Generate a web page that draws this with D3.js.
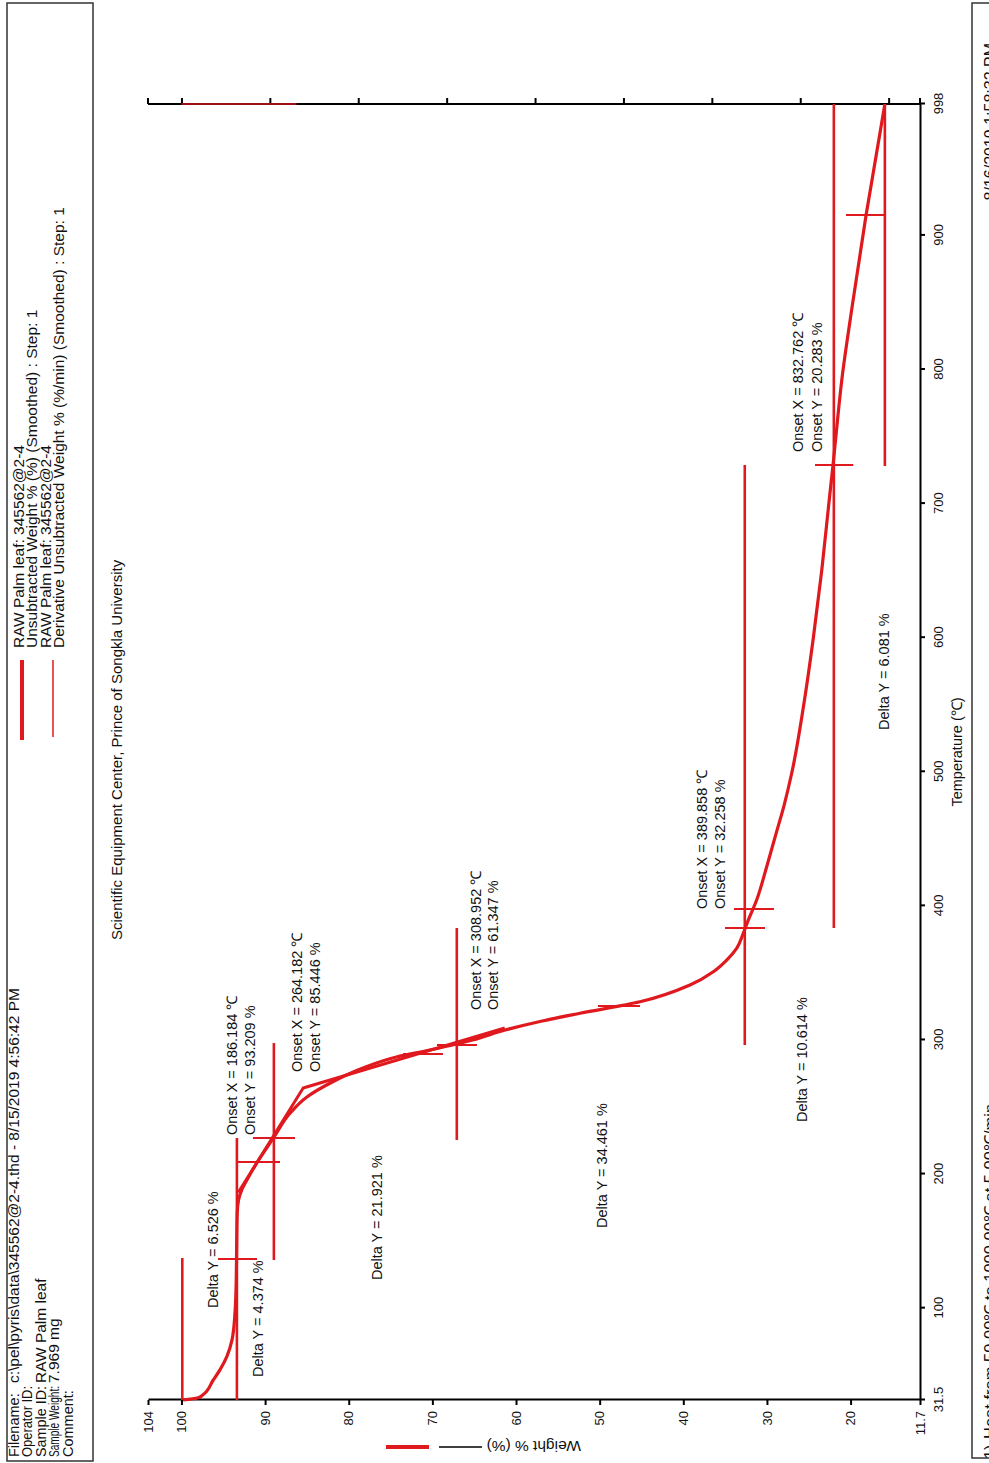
<!DOCTYPE html>
<html><head><meta charset="utf-8">
<script src="https://cdn.jsdelivr.net/npm/d3@7"></script>
<style>
body{margin:0;background:#fff}
svg{display:block}
text{font-family:"Liberation Sans",Arial,Helvetica,sans-serif;fill:#111}
</style>
</head><body>
<svg id="chart" width="989" height="1463"></svg>
<script>
// ---------- data ----------
const tempTicks   = [31.5,100,200,300,400,500,600,700,800,900,998];
const weightTicks = [104,100,90,80,70,60,50,40,30,20,11.7];
const derivTicks  = [0.2,0,-0.2,-0.4,-0.6,-0.8,-1.0,-1.2,-1.4];

const curveTemp   = [31.5,33,35,46.4,54,64.3,76.2,96.4,113.5,145.6,171,180.6,188,197,208.2,226.9,245.5,257.5,267.9,279.1,287.3,292.5,297,300,307.4,314,319.9,328.5,341,350.9,359.6,368.3,379.5,389.4,404.4,429.2,454.1,475,500,550,600,650,700,728.7,797.3,849.5,915,998];
const curveWeight = [99.8,98.1,97.5,96.2,95.4,94.55,93.96,93.6,93.48,93.4,93.33,93.18,92.8,92.04,91.0,89.0,87.0,85.0,82.2,78.3,74.3,70.3,67.1,65.2,61.3,57.0,52.35,45.18,39.2,36.41,34.81,33.62,32.83,32.23,31.23,30.03,28.9,27.95,27.0,25.6,24.45,23.45,22.6,22.1,20.95,19.75,18.15,15.9];

const onsetTemp   = [186.184,264.182,308.952];
const onsetWeight = [93.209,85.446,61.347];

const levelWeight = [99.9,93.37,88.95,67.08,32.65,22.0,15.9];
const levelFrom   = [31.5,31.5,135.9,225.4,296.2,383.5,728];
const levelTo     = [137.4,226.9,297.7,383.5,728.7,998,998];

const markTemp    = [136.6,209,226.9,289.5,296.2,325.3,383.5,397.6,728.7,915.2];
const markW1      = [95.63,93.24,91.45,73.51,69.45,50.2,35.01,33.94,24.25,20.55];
const markW2      = [90.97,88.22,86.42,68.73,64.67,45.18,30.23,29.16,19.68,16.0];

const noteText = ["Delta Y = 6.526 %","Delta Y = 4.374 %","Onset X = 186.184 \u2103","Onset Y = 93.209 %",
  "Onset X = 264.182 \u2103","Onset Y = 85.446 %","Delta Y = 21.921 %","Onset X = 308.952 \u2103","Onset Y = 61.347 %",
  "Delta Y = 34.461 %","Onset X = 389.858 \u2103","Onset Y = 32.258 %","Delta Y = 10.614 %",
  "Onset X = 832.762 \u2103","Onset Y = 20.283 %","Delta Y = 6.081 %"];
const noteT = [100.1,48.65,229.1,229.1,276.1,276.1,121,322.3,322.3,159.8,397.6,397.6,238.8,738.4,738.4,531.1];
const noteW = [95.63,90.25,93.36,91.2,85.59,83.44,76.02,64.19,62.15,49.1,37.2,35.0,25.25,25.69,23.45,15.45];

const infoLabels = ["Filename:","Operator ID:","Sample ID:","Sample Weight:","Comment:"];
const infoValues = ["c:\\pel\\pyris\\data\\345562@2-4.thd - 8/15/2019 4:56:42 PM","","RAW Palm leaf","7.969 mg",""];
const legendLines = ["RAW Palm leaf: 345562@2-4","Unsubtracted Weight % (%) (Smoothed) : Step: 1",
  "RAW Palm leaf: 345562@2-4","Derivative Unsubtracted Weight % (%/min) (Smoothed) : Step: 1"];

// ---------- layout (page is drawn in landscape, then rotated) ----------
const W = 1463, H = 989;
const RED = "#e0191e";
const svg = d3.select("#chart");
const g = svg.append("g").attr("transform", `translate(0,${W}) rotate(-90)`);

const xT = d3.scaleLinear().domain([31.5, 998]).range([63, 1359]);
const yW = d3.scaleLinear().domain([104, 11.7]).range([148, 920]);
const yD = d3.scaleLinear().domain([0.2, -1.4]).range([yW(100), yW(15.45)]);

// header box
g.append("rect").attr("x", 2).attr("y", 7).attr("width", 1458).attr("height", 86)
  .attr("fill", "none").attr("stroke", "#333").attr("stroke-width", 1.5);
const hdrFont = 15;
infoLabels.forEach((t, i) => {
  const lab = g.append("text").attr("x", 6).attr("y", 19 + i * 13.4).attr("font-size", 14.5).text(t);
  const len = lab.node().getComputedTextLength();
  if (len > 71) lab.attr("textLength", 71).attr("lengthAdjust", "spacingAndGlyphs");
  if (infoValues[i]) g.append("text").attr("x", 80).attr("y", 19 + i * 13.4).attr("font-size", 15.5).text(infoValues[i]);
});
legendLines.forEach((t, i) => {
  g.append("text").attr("x", 815).attr("y", 24 + i * 13.4).attr("font-size", 15.5).text(t);
});
g.append("line").attr("x1", 723).attr("x2", 803).attr("y1", 22).attr("y2", 22).attr("stroke", RED).attr("stroke-width", 4);
g.append("line").attr("x1", 726).attr("x2", 803).attr("y1", 53).attr("y2", 53).attr("stroke", RED).attr("stroke-width", 1.5);

g.append("text").attr("x", 523).attr("y", 122).attr("font-size", 15)
  .text("Scientific Equipment Center, Prince of Songkla University");

// footer box
g.append("rect").attr("x", 5).attr("y", 972).attr("width", 1455).attr("height", 40)
  .attr("fill", "none").attr("stroke", "#333").attr("stroke-width", 1.5);
g.append("text").attr("x", 4).attr("y", 996).attr("font-size", 16).text("1)");
g.append("text").attr("x", 24).attr("y", 996).attr("font-size", 16.5).text("Heat from 50.00\u2103 to 1000.00\u2103 at 5.00\u2103/min");
g.append("text").attr("x", 1420).attr("y", 996).attr("font-size", 16).attr("text-anchor", "end").text("8/16/2019 1:58:32 PM");

// ---------- axes ----------
const axT = g.append("g").attr("transform", `translate(0,${yW(11.7)})`)
  .call(d3.axisBottom(xT).tickValues(tempTicks).tickSize(5).tickSizeOuter(0).tickPadding(9)
    .tickFormat(d => String(d)));
const axW = g.append("g").attr("transform", `translate(${xT(31.5)},0)`)
  .call(d3.axisLeft(yW).tickValues(weightTicks).tickSize(5).tickSizeOuter(0).tickPadding(6)
    .tickFormat(d => String(d)));
const axD = g.append("g").attr("transform", `translate(${xT(998)},0)`)
  .call(d3.axisRight(yD).tickValues(derivTicks).tickSize(6).tickSizeOuter(0).tickFormat(""));
axD.select(".domain").remove();
[yW(104), yW(11.7)].forEach(v => g.append("line").attr("x1", xT(998)).attr("x2", xT(998) + 6)
  .attr("y1", v).attr("y2", v).attr("stroke", "#000").attr("stroke-width", 2));
g.append("line").attr("x1", xT(998)).attr("x2", xT(998)).attr("y1", yW(104)).attr("y2", yW(11.7))
  .attr("stroke", "#000").attr("stroke-width", 2);
[axT, axW, axD].forEach(a => {
  a.selectAll("path,line").attr("stroke", "#000").attr("stroke-width", 2);
  a.selectAll("text").attr("font-size", 13).attr("fill", "#111")
    .attr("font-family", '"Liberation Sans",Arial,sans-serif');
});

g.append("text").attr("x", (xT(31.5) + xT(998)) / 2).attr("y", 962).attr("text-anchor", "middle")
  .attr("font-size", 14.5).text("Temperature (\u2103)");

// weight axis title with legend swatches
const wt = g.append("g").attr("transform", `translate(22,581) rotate(-90)`);
wt.append("text").attr("x", 0).attr("y", 0).attr("font-size", 15.5).text("Weight % (%)");
g.append("line").attr("x1", 16).attr("x2", 16).attr("y1", 439).attr("y2", 482).attr("stroke", "#000").attr("stroke-width", 1.6);
g.append("line").attr("x1", 16).attr("x2", 16).attr("y1", 386).attr("y2", 429).attr("stroke", RED).attr("stroke-width", 4);

// ---------- plot marks ----------
const plot = g.append("g");
levelWeight.forEach((w, i) => {
  plot.append("line").attr("x1", xT(levelFrom[i])).attr("x2", xT(levelTo[i]))
    .attr("y1", yW(w)).attr("y2", yW(w)).attr("stroke", RED).attr("stroke-width", 2.6);
});
markTemp.forEach((t, i) => {
  plot.append("line").attr("x1", xT(t)).attr("x2", xT(t))
    .attr("y1", yW(markW1[i])).attr("y2", yW(markW2[i])).attr("stroke", RED).attr("stroke-width", 2);
});
plot.append("line").attr("x1", xT(998)).attr("x2", xT(998)).attr("y1", yD(0.2)).attr("y2", yD(-0.06))
  .attr("stroke", RED).attr("stroke-width", 2).attr("opacity", 0.7);

const pts = curveTemp.map((t, i) => [t, curveWeight[i]]);
const line = d3.line().x(d => xT(d[0])).y(d => yW(d[1])).curve(d3.curveMonotoneX);
plot.append("path").datum(pts).attr("d", line).attr("fill", "none").attr("stroke", RED)
  .attr("stroke-width", 3.2).attr("stroke-linejoin", "round");
const ons = onsetTemp.map((t, i) => [t, onsetWeight[i]]);
plot.append("path").datum(ons).attr("d", d3.line().x(d => xT(d[0])).y(d => yW(d[1])))
  .attr("fill", "none").attr("stroke", RED).attr("stroke-width", 3).attr("stroke-linejoin", "round");

noteText.forEach((t, i) => {
  plot.append("text").attr("x", xT(noteT[i])).attr("y", yW(noteW[i])).attr("font-size", 14.5).text(t);
});
</script>
</body></html>
